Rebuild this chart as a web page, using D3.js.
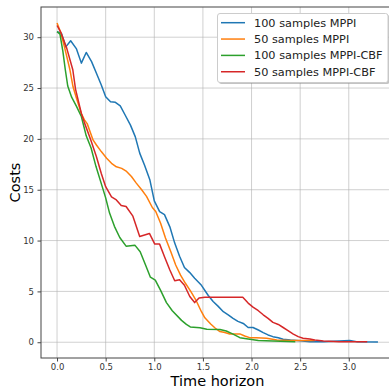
<!DOCTYPE html>
<html lang="en">
  <head>
    <meta charset="UTF-8" />
    <title>Costs vs Time horizon</title>
    <script src="https://d3js.org/d3.v7.min.js"></script>
    <style>
      body {
        margin: 0;
        font-family: "DejaVu Sans", sans-serif;
        background: #fff;
      }
    </style>
  </head>
  <body>
    <div id="chart"></div>
    <script>
      // [time, cost] pairs
      const mppi100 = [
        [0, 30.55], [0.045, 30.4], [0.09, 29.05], [0.14, 29.65], [0.2, 28.85], [0.25, 27.45],
        [0.3, 28.5], [0.355, 27.6], [0.405, 26.45], [0.455, 25.3], [0.5, 24.15], [0.55, 23.65],
        [0.6, 23.6], [0.65, 23.25], [0.7, 22.35], [0.755, 21.35], [0.805, 20.2], [0.85, 18.6],
        [0.9, 17.4], [0.955, 15.95], [1.0, 13.9], [1.055, 12.85], [1.105, 12.55], [1.16, 11.35],
        [1.21, 9.75], [1.26, 8.45], [1.31, 7.35], [1.365, 6.85], [1.415, 6.3], [1.485, 5.6],
        [1.555, 4.6], [1.605, 4.0], [1.655, 3.55], [1.71, 3.0], [1.76, 2.7], [1.81, 2.35],
        [1.86, 2.05], [1.915, 1.85], [1.965, 1.45], [2.015, 1.45], [2.07, 1.2], [2.12, 0.95],
        [2.17, 0.72], [2.22, 0.55], [2.275, 0.45], [2.325, 0.3], [2.4, 0.22], [2.5, 0.15],
        [2.6, 0.06], [2.74, 0.06], [2.9, 0.13], [3.01, 0.16], [3.08, 0.06], [3.3, 0.03]
      ]
      const mppi50 = [
        [0, 31.4], [0.04, 30.4], [0.08, 28.9], [0.13, 26.9], [0.165, 25.1], [0.2, 24.0],
        [0.25, 22.5], [0.285, 21.8], [0.31, 21.5], [0.37, 19.9], [0.405, 19.4], [0.455, 18.75],
        [0.51, 18.1], [0.56, 17.6], [0.61, 17.25], [0.665, 17.1], [0.715, 16.8], [0.765, 16.3],
        [0.815, 15.65], [0.87, 15.0], [0.92, 14.35], [0.98, 13.25], [1.015, 12.85], [1.065, 11.7],
        [1.115, 10.25], [1.17, 8.9], [1.22, 7.6], [1.27, 6.6], [1.32, 5.8], [1.375, 5.0],
        [1.425, 4.2], [1.485, 3.0], [1.52, 2.4], [1.58, 1.8], [1.625, 1.4], [1.675, 1.05],
        [1.725, 0.95], [1.775, 0.82], [1.88, 0.82], [1.93, 0.62], [1.98, 0.45], [2.05, 0.45],
        [2.155, 0.4], [2.26, 0.23], [2.4, 0.16], [2.65, 0.16]
      ]
      const cbf100 = [
        [0, 30.55], [0.03, 30.3], [0.06, 28.6], [0.085, 26.8], [0.11, 25.2], [0.15, 24.1],
        [0.2, 23.2], [0.25, 22.2], [0.3, 20.3], [0.35, 19.1], [0.4, 17.3], [0.455, 15.6],
        [0.5, 14.2], [0.54, 12.7], [0.59, 11.4], [0.645, 10.3], [0.71, 9.45], [0.8, 9.55],
        [0.855, 8.9], [0.91, 7.6], [0.96, 6.4], [1.01, 6.1], [1.065, 5.1], [1.125, 3.9],
        [1.185, 3.1], [1.28, 2.15], [1.33, 1.75], [1.37, 1.5], [1.47, 1.42], [1.54, 1.28],
        [1.675, 1.25], [1.74, 1.1], [1.81, 0.8], [1.88, 0.45], [1.965, 0.32], [2.07, 0.16],
        [2.22, 0.13], [2.45, 0.06]
      ]
      const cbf50 = [
        [0, 31.15], [0.035, 30.55], [0.1, 28.9], [0.162, 26.8], [0.19, 24.9], [0.25, 22.5],
        [0.285, 21.5], [0.347, 19.9], [0.405, 18.25], [0.455, 16.6], [0.5, 15.3], [0.56, 14.3],
        [0.61, 14.0], [0.66, 13.45], [0.71, 13.35], [0.78, 12.4], [0.85, 10.4], [0.95, 10.7],
        [1.005, 9.65], [1.055, 9.65], [1.105, 8.4], [1.16, 7.1], [1.21, 6.05], [1.26, 6.15],
        [1.31, 5.6], [1.365, 4.5], [1.415, 3.9], [1.46, 4.35], [1.52, 4.42], [1.91, 4.42],
        [1.965, 3.85], [2.015, 3.45], [2.07, 3.1], [2.12, 2.7], [2.17, 2.35], [2.22, 1.95],
        [2.275, 1.75], [2.325, 1.45], [2.375, 1.15], [2.43, 0.8], [2.48, 0.55], [2.53, 0.4],
        [2.6, 0.32], [2.65, 0.23], [2.74, 0.13], [2.9, 0.06], [3.19, 0.06]
      ]

      const seriesNames = ["100 samples MPPI", "50 samples MPPI", "100 samples MPPI-CBF", "50 samples MPPI-CBF"]
      const seriesColors = ["#1f77b4", "#ff7f0e", "#2ca02c", "#d62728"]
      const seriesData = [mppi100, mppi50, cbf100, cbf50]

      const xTicks = [0, 0.5, 1, 1.5, 2, 2.5, 3]
      const yTicks = [0, 5, 10, 15, 20, 25, 30]

      const W = 389,
        H = 390
      const plot = { left: 41, top: 7, right: 394, bottom: 358 }

      const svg = d3.select("#chart").append("svg").attr("width", W).attr("height", H)

      const x = d3.scaleLinear().domain([-0.165, 3.465]).range([plot.left, plot.right])
      const y = d3.scaleLinear().domain([-1.55, 32.97]).range([plot.bottom, plot.top])

      // grid
      const grid = svg.append("g").attr("stroke", "#b0b0b0").attr("stroke-opacity", 0.6).attr("stroke-width", 1)
      grid
        .selectAll(".gx")
        .data(xTicks)
        .join("line")
        .attr("x1", d => x(d))
        .attr("x2", d => x(d))
        .attr("y1", plot.top)
        .attr("y2", plot.bottom)
      grid
        .selectAll(".gy")
        .data(yTicks)
        .join("line")
        .attr("x1", plot.left)
        .attr("x2", plot.right)
        .attr("y1", d => y(d))
        .attr("y2", d => y(d))

      // lines
      const line = d3
        .line()
        .x(d => x(d[0]))
        .y(d => y(d[1]))

      seriesData.forEach((data, i) => {
        svg
          .append("path")
          .datum(data)
          .attr("fill", "none")
          .attr("stroke", seriesColors[i])
          .attr("stroke-width", 1.5)
          .attr("stroke-linejoin", "round")
          .attr("d", line)
      })

      // axes
      const xAxis = svg
        .append("g")
        .attr("transform", `translate(0,${plot.bottom})`)
        .call(d3.axisBottom(x).tickValues(xTicks).tickFormat(d3.format(".1f")).tickSize(3.5).tickPadding(2))
      const yAxis = svg
        .append("g")
        .attr("transform", `translate(${plot.left},0)`)
        .call(d3.axisLeft(y).tickValues(yTicks).tickSize(3.5).tickPadding(3.5))

      ;[xAxis, yAxis].forEach(g => {
        g.select(".domain").remove()
        g.selectAll("line").attr("stroke", "#444")
        g.selectAll("text")
          .attr("fill", "#333")
          .style("font-family", "DejaVu Sans")
          .style("font-size", "8.5px")
      })

      // spines
      svg
        .append("rect")
        .attr("x", plot.left)
        .attr("y", plot.top)
        .attr("width", plot.right - plot.left)
        .attr("height", plot.bottom - plot.top)
        .attr("fill", "none")
        .attr("stroke", "#444")
        .attr("stroke-width", 1)

      // axis labels
      svg
        .append("text")
        .attr("x", (plot.left + plot.right) / 2)
        .attr("y", 385.5)
        .attr("text-anchor", "middle")
        .style("font-size", "14.5px")
        .text("Time horizon")

      svg
        .append("text")
        .attr("transform", `translate(20,${(plot.top + plot.bottom) / 2}) rotate(-90)`)
        .attr("text-anchor", "middle")
        .style("font-size", "14.5px")
        .text("Costs")

      // legend
      const lg = { x: 217.5, y: 13.5, w: 170.5, h: 69 }
      svg
        .append("rect")
        .attr("x", lg.x + 1.5)
        .attr("y", lg.y + 1.5)
        .attr("width", lg.w)
        .attr("height", lg.h)
        .attr("rx", 2.5)
        .attr("fill", "#888")
        .attr("opacity", 0.5)
      svg
        .append("rect")
        .attr("x", lg.x)
        .attr("y", lg.y)
        .attr("width", lg.w)
        .attr("height", lg.h)
        .attr("rx", 2.5)
        .attr("fill", "#fff")
        .attr("stroke", "#ccc")
        .attr("stroke-width", 1)

      const items = svg
        .selectAll(".legend-item")
        .data(seriesNames)
        .join("g")
        .attr("transform", (d, i) => `translate(${lg.x},${22.7 + i * 16.35})`)
      items
        .append("line")
        .attr("x1", 3.5)
        .attr("x2", 27.5)
        .attr("stroke", (d, i) => seriesColors[i])
        .attr("stroke-width", 1.5)
      items
        .append("text")
        .attr("x", 36.5)
        .attr("dy", "0.36em")
        .style("font-size", "11.3px")
        .attr("fill", "#222")
        .text(d => d)
    </script>
  </body>
</html>
